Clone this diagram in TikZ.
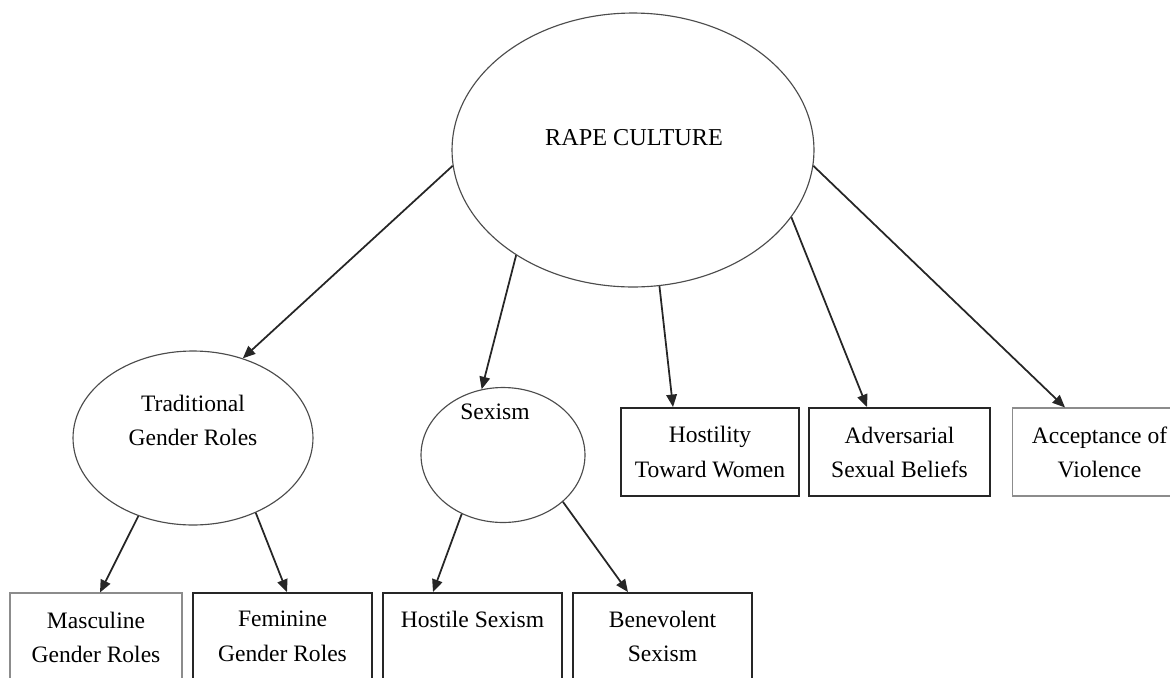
\documentclass[tikz,border=0pt]{standalone}
\usepackage{fontspec}
\setmainfont{Liberation Serif}
\usetikzlibrary{shapes.geometric}
\usetikzlibrary{arrows.meta}
\tikzset{
  % A latent construct: an ellipse, its label set on top of it
  construct/.style 2 args={
    draw=black!70, line width=0.65pt, ellipse, inner sep=0pt,
    minimum width=#1, minimum height=#2},
  % A measured indicator box
  indicator/.style 2 args={
    draw=black!85, line width=1.1pt, rectangle, inner sep=0pt,
    minimum width=#1, minimum height=#2},
  faint/.style={draw=black!45, line width=0.6pt},
  % Text inside the shapes
  lbl/.style={font=\fontsize{13.4}{19.4}\selectfont, align=center, inner sep=0pt},
  % Paths
  link/.style={-{Triangle[length=2.5mm, width=2.1mm]}, draw=black!85, line width=1pt},
}

\begin{document}
\begin{tikzpicture}[x=0.02cm, y=-0.02cm]

  \useasboundingbox (0,0) rectangle (1170,677);

  % constructs
  \node[construct={7.24cm}{5.48cm}] (rape) at (633,150) {};
  \node[lbl, font=\fontsize{13.8}{19.4}\selectfont] (rapetxt) at (634,138) {RAPE CULTURE};

  \node[construct={4.8cm}{3.48cm}] (trad) at (193,438) {};
  \node[lbl] (tradtxt) at (193,420) {Traditional\\Gender Roles};

  \node[construct={3.28cm}{2.7cm}] (sex) at (503,455) {};
  \node[lbl] (sextxt) at (495,412) {Sexism};

  % indicators, top row
  \node[indicator={3.56cm}{1.76cm}, lbl] (host) at (710,452) {Hostility\\Toward Women};
  \node[indicator={3.62cm}{1.76cm}, lbl] (adv) at (899.5,452) {Adversarial\\Sexual Beliefs};
  \node[indicator={3.5cm}{1.76cm}, faint, lbl] (acc) at (1099.5,452) {Acceptance of\\Violence};

  % indicators, bottom row
  \node[indicator={3.44cm}{1.78cm}, faint] (masc) at (96,637.5) {};
  \node[indicator={3.58cm}{1.78cm}] (fem) at (282.5,637.5) {};
  \node[indicator={3.58cm}{1.78cm}] (hostsex) at (472.5,637.5) {};
  \node[indicator={3.58cm}{1.78cm}] (benev) at (662.5,637.5) {};
  \node[lbl, anchor=north] (masctxt) at ([yshift=-0.38cm]masc.north) {Masculine\\Gender Roles};
  \node[lbl, anchor=north] (femtxt) at ([yshift=-0.38cm]fem.north) {Feminine\\Gender Roles};
  \node[lbl, anchor=north] (hostsextxt) at ([yshift=-0.38cm]hostsex.north) {Hostile Sexism};
  \node[lbl, anchor=north] (benevtxt) at ([yshift=-0.38cm]benev.north) {Benevolent\\Sexism};

  % paths
  \draw[link] (rape.185) -- (trad.58);
  \draw[link] (rape.222) -- (sex.108);
  \draw[link] (rape.281) -- ([xshift=-0.74cm]host.north);
  \draw[link] (rape.337) -- ([xshift=-0.65cm]adv.north);
  \draw[link] (rape.355) -- ([xshift=-0.69cm]acc.north);

  \draw[link] (trad.235) -- ([xshift=0.08cm]masc.north);
  \draw[link] (trad.310) -- ([xshift=0.09cm]fem.north);
  \draw[link] (sex.235) -- ([xshift=-0.79cm]hostsex.north);
  \draw[link] (sex.322) -- ([xshift=-0.69cm]benev.north);

\end{tikzpicture}
\end{document}
